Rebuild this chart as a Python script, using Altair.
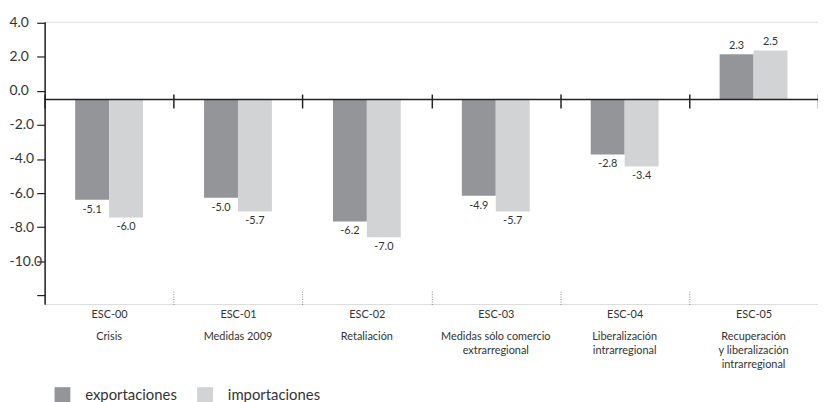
import altair as alt
import pandas as pd

FONT = "Lato"

escenarios = ["ESC-00", "ESC-01", "ESC-02", "ESC-03", "ESC-04", "ESC-05"]
descripciones = [
    "Crisis",
    "Medidas 2009",
    "Retaliación",
    "Medidas sólo comercio|extrarregional",
    "Liberalización|intrarregional",
    "Recuperación|y liberalización|intrarregional",
]
exportaciones = [-5.1, -5.0, -6.2, -4.9, -2.8, 2.3]
importaciones = [-6.0, -5.7, -7.0, -5.7, -3.4, 2.5]
series = ["exportaciones", "importaciones"]
colores = ["#939598", "#d1d3d4"]
y_ticks = [4, 2, 0, -2, -4, -6, -8, -10, -12]
grid_values = [3.82, 2, -2, -4, -6, -8, -10]

cats = [e + "|" + d for e, d in zip(escenarios, descripciones)]
rows = []
for c, ex, im in zip(cats, exportaciones, importaciones):
    rows.append({"cat": c, "serie": series[0], "valor": ex})
    rows.append({"cat": c, "serie": series[1], "valor": im})
df = pd.DataFrame(rows)
df["etiqueta"] = df["valor"].map(lambda v: f"{v:.1f}")

xscale = alt.Scale(domain=cats, paddingInner=0, paddingOuter=0)
xoff = alt.XOffset("serie:N", scale=alt.Scale(domain=series, paddingInner=0, paddingOuter=0.9))
yscale_data = alt.Scale(domain=[-10.403, 3.955], nice=False, zero=False)
yscale_lab = alt.Scale(domain=[-12.505, 4.041], nice=False, zero=False)

bars = alt.Chart(df).mark_bar().encode(
    x=alt.X("cat:N", scale=xscale, sort=cats, title=None,
            axis=alt.Axis(orient="bottom", offset=-13,
                          labelExpr="isString(datum.value) ? split(datum.value,'|')[0] : ''",
                          tickBand="extent", tickSize=14, tickDash=[1, 1.5], tickColor="#888",
                          domain=False, labelAngle=0, labelPadding=4, labelFontSize=11,
                          labelColor="#333", labelFont=FONT, grid=False)),
    xOffset=xoff,
    y=alt.Y("valor:Q", scale=yscale_data, title=None,
            axis=alt.Axis(orient="right", values=grid_values, labels=False, ticks=False,
                          domain=False, grid=True, gridDash=[1, 1.5], gridColor="#888",
                          gridWidth=1)),
    color=alt.Color("serie:N", scale=alt.Scale(domain=series, range=colores),
                    legend=alt.Legend(title=None, orient="none", legendX=10, legendY=369,
                                      direction="horizontal", symbolType="square",
                                      symbolSize=256, symbolStrokeWidth=0, labelFontSize=15,
                                      labelFont=FONT, labelColor="#333", labelOffset=15,
                                      columnPadding=20)),
)

text_neg = alt.Chart(df).transform_filter("datum.valor < 0").mark_text(
    baseline="top", dy=4, fontSize=11, font=FONT, color="#333"
).encode(
    x=alt.X("cat:N", scale=xscale, sort=cats, title=None,
            axis=alt.Axis(orient="bottom", offset=-212, labels=False, tickBand="extent",
                          tickSize=14, tickColor="#222", tickWidth=1.5, domain=False, grid=False)),
    xOffset=xoff,
    y=alt.Y("valor:Q", scale=yscale_data, axis=None),
    text="etiqueta:N",
)

text_pos = alt.Chart(df).transform_filter("datum.valor >= 0").mark_text(
    baseline="bottom", dy=-3, fontSize=11, font=FONT, color="#333"
).encode(
    x=alt.X("cat:N", scale=xscale, sort=cats, title=None, axis=None),
    xOffset=xoff,
    y=alt.Y("valor:Q", scale=yscale_data, axis=None),
    text="etiqueta:N",
)

zero_rule = alt.Chart(pd.DataFrame({"v": [0]})).mark_rule(color="#222", strokeWidth=1.5).encode(
    y=alt.Y("v:Q", scale=yscale_data, axis=None)
)

inner = alt.layer(bars, text_neg, text_pos, zero_rule).resolve_axis(x="independent")

label_layer = alt.Chart(df).mark_point(opacity=0).encode(
    x=alt.X("cat:N", scale=xscale, sort=cats, title=None,
            axis=alt.Axis(orient="bottom", offset=0,
                          labelExpr="isString(datum.value) ? slice(split(datum.value,'|'),1) : ''",
                          ticks=False, tickSize=0, domain=False, labelPadding=27,
                          labelLineHeight=14, labelFontSize=11, labelFont=FONT,
                          labelColor="#333", labelAngle=0, grid=False)),
    y=alt.Y("valor:Q", scale=yscale_lab, title=None,
            axis=alt.Axis(orient="left", values=y_ticks,
                          labelExpr="datum.value == -12 ? '' : (datum.value < 0 ? '-' : '') + format(abs(datum.value), '.1f')",
                          tickSize=8, tickColor="#222", tickWidth=1.2, domain=True,
                          domainColor="#222", domainWidth=1.5, labelAlign="left",
                          labelPadding=28, labelFontSize=14, labelFont=FONT,
                          labelColor="#333", grid=False)),
)

chart = alt.layer(label_layer, inner).resolve_scale(y="independent").resolve_axis(
    x="independent", y="independent"
).properties(
    width=781, height=285,
    autosize=alt.AutoSizeParams(type="none"),
    padding={"left": 37, "top": 12, "right": 0, "bottom": 97},
).configure_view(stroke=None).configure(font=FONT)

chart.save("out.html", embed_options={"renderer": "svg", "actions": False})
